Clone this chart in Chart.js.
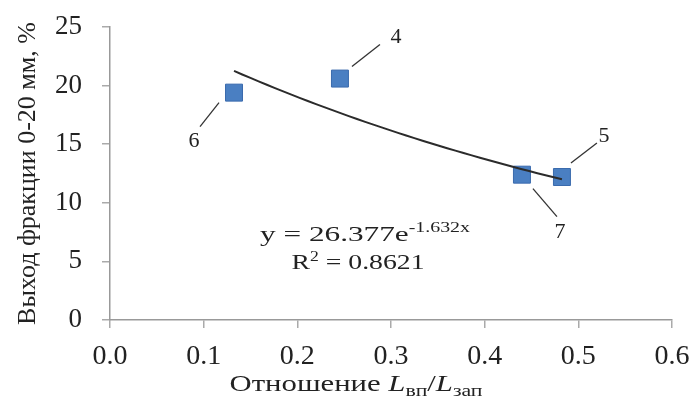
<!DOCTYPE html>
<html>
<head>
<meta charset="utf-8">
<script src="https://cdn.jsdelivr.net/npm/chart.js@4.4.1/dist/chart.umd.min.js"></script>
<style>
  body { margin: 0; background: #fff; }
  canvas { display: block; }
</style>
</head>
<body>
<canvas id="myChart" width="693" height="401"></canvas>
<script>
// experiment numbers and measured values
const pointIds = ['4', '5', '6', '7'];
const ratio = [0.2455, 0.4825, 0.1324, 0.4398];
const yieldPct = [20.6, 12.2, 19.4, 12.4];

// exponential trend y = a*e^(b*x)
const trendA = 26.377;
const trendB = -1.632;
const trendR2 = '0.8621';

const xTicks = [0, 0.1, 0.2, 0.3, 0.4, 0.5, 0.6];
const yTicks = [0, 5, 10, 15, 20, 25];

const serif = "'Liberation Serif', 'Times New Roman', serif";

// trend curve over the range of the data
const xMin = Math.min(...ratio), xMax = Math.max(...ratio);
const trendPts = [];
for (let i = 0; i <= 40; i++) {
  const x = xMin + (xMax - xMin) * i / 40;
  trendPts.push({ x: x, y: trendA * Math.exp(trendB * x) });
}

// label offsets for the point numbers (px): leader start, leader end, text
const callouts = {
  '4': [[12, -12], [40, -34], [56, -41]],
  '5': [[9, -14], [35, -34], [42, -41]],
  '6': [[-15, 10], [-34, 34], [-40, 49]],
  '7': [[11, 14], [35, 42], [38, 58]]
};

const calloutPlugin = {
  id: 'callouts',
  afterDatasetsDraw(chart) {
    const ctx = chart.ctx;
    const meta = chart.getDatasetMeta(1);
    ctx.save();
    ctx.strokeStyle = '#333';
    ctx.lineWidth = 1.3;
    ctx.fillStyle = '#222';
    ctx.font = '22px ' + serif;
    ctx.textAlign = 'center';
    ctx.textBaseline = 'middle';
    meta.data.forEach((pt, i) => {
      const c = callouts[pointIds[i]];
      ctx.beginPath();
      ctx.moveTo(pt.x + c[0][0], pt.y + c[0][1]);
      ctx.lineTo(pt.x + c[1][0], pt.y + c[1][1]);
      ctx.stroke();
      ctx.fillText(pointIds[i], pt.x + c[2][0], pt.y + c[2][1]);
    });
    ctx.restore();
  }
};

// draws a run of [text, font, dy] pieces, stretched to the given width
function drawRun(ctx, parts, cx, baseline, width) {
  let total = 0;
  parts.forEach(p => { ctx.font = p[1]; total += ctx.measureText(p[0]).width; });
  const k = width / total;
  ctx.save();
  ctx.translate(cx - width / 2, baseline);
  ctx.scale(k, 1);
  let x = 0;
  parts.forEach(p => {
    ctx.font = p[1];
    ctx.fillText(p[0], x, p[2]);
    x += ctx.measureText(p[0]).width;
  });
  ctx.restore();
}

const textPlugin = {
  id: 'extraText',
  afterDraw(chart) {
    const ctx = chart.ctx;
    ctx.save();
    ctx.fillStyle = '#222';
    ctx.textBaseline = 'alphabetic';
    ctx.textAlign = 'left';

    // trend equation
    const big = '22px ' + serif, small = '14px ' + serif;
    drawRun(ctx, [
      ['y = ' + trendA + 'e', big, 0],
      [String(trendB) + 'x', small, -9]
    ], 365, 241, 210);
    drawRun(ctx, [
      ['R', big, 0],
      ['2', small, -8],
      [' = ' + trendR2, big, 0]
    ], 358, 269, 133);

    // x axis title with subscripts
    const reg = '24px ' + serif, it = 'italic 24px ' + serif, sub = '17px ' + serif;
    drawRun(ctx, [
      ['Отношение ', reg, 0],
      ['L', it, 0],
      ['вп', sub, 5],
      ['/', reg, 0],
      ['L', it, 0],
      ['зап', sub, 5]
    ], 356, 391, 253);
    ctx.restore();
  }
};

// keep the plot box fixed: no extra room for overhanging tick labels
function fixBox(s, size) {
  if (s.isHorizontal()) s.height = size; else s.width = size;
  s.paddingTop = 0;
  s.paddingBottom = 0;
  s.paddingLeft = 0;
  s.paddingRight = 0;
}

new Chart(document.getElementById('myChart'), {
  type: 'scatter',
  data: {
    datasets: [{
      type: 'line',
      data: trendPts,
      borderColor: '#2b2b2b',
      borderWidth: 2,
      pointRadius: 0,
      fill: false,
      tension: 0
    }, {
      data: ratio.map((x, i) => ({ x: x, y: yieldPct[i] })),
      pointStyle: 'rect',
      pointRadius: 12,
      backgroundColor: '#4a7fc2',
      borderColor: '#3a6aad',
      borderWidth: 1
    }]
  },
  plugins: [calloutPlugin, textPlugin],
  options: {
    responsive: false,
    animation: false,
    layout: { padding: { top: 27, right: 21, left: 0, bottom: 0 } },
    plugins: { legend: { display: false }, tooltip: { enabled: false } },
    scales: {
      x: {
        type: 'linear',
        min: 0,
        max: 0.6,
        afterBuildTicks: s => { s.ticks = xTicks.map(v => ({ value: v })); },
        afterFit: s => fixBox(s, 81),
        ticks: {
          color: '#222',
          font: { family: serif, size: 28 },
          padding: 12,
          maxRotation: 0,
          callback: v => v.toFixed(1)
        },
        grid: { drawOnChartArea: false, tickLength: 8, color: '#aaa', lineWidth: 1.5 },
        border: { color: '#999', width: 1.5 }
      },
      y: {
        min: 0,
        max: 25,
        afterBuildTicks: s => { s.ticks = yTicks.map(v => ({ value: v })); },
        afterFit: s => fixBox(s, 110),
        ticks: {
          color: '#222',
          font: { family: serif, size: 27 },
          padding: 20
        },
        grid: { drawOnChartArea: false, tickLength: 8, color: '#aaa', lineWidth: 1.5 },
        border: { color: '#999', width: 1.5 },
        title: {
          display: true,
          text: 'Выход фракции 0-20 мм, %',
          color: '#222',
          font: { family: serif, size: 26 },
          padding: { top: 13 }
        }
      }
    }
  }
});
</script>
</body>
</html>
